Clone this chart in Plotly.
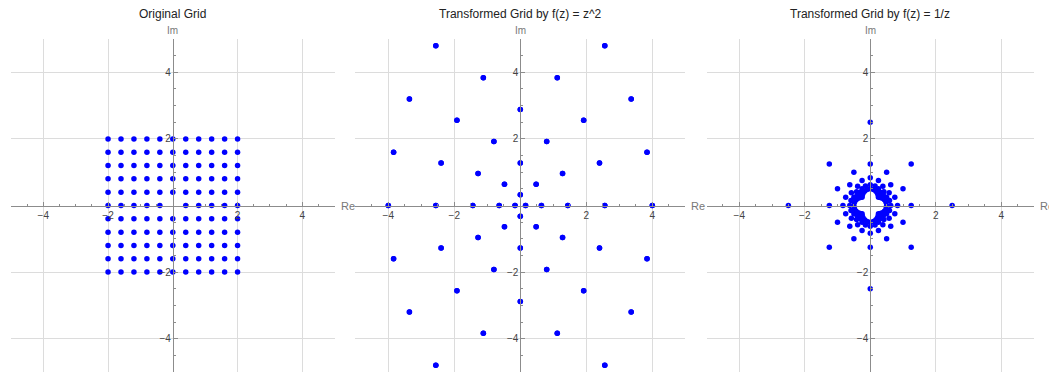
import plotly.graph_objects as go

# Grid values along the real and imaginary axes (origin excluded)
re_values = [-2.0, -1.6, -1.2, -0.8, -0.4, 0.0, 0.4, 0.8, 1.2, 1.6, 2.0]
im_values = [-2.0, -1.6, -1.2, -0.8, -0.4, 0.0, 0.4, 0.8, 1.2, 1.6, 2.0]
titles = ["Original Grid", "Transformed Grid by f(z) = z^2", "Transformed Grid by f(z) = 1/z"]
major_ticks = [-4, -2, 2, 4]
minor_ticks = [-4.5, -3.5, -3, -2.5, -1.5, -1, -0.5, 0.5, 1, 1.5, 2.5, 3, 3.5, 4.5]
tick_text = ["\u22124", "\u22122", "2", "4"]
plot_range = [-5, 5]

grid = [complex(a, b) for b in im_values for a in re_values if not (a == 0 and b == 0)]
transforms = [lambda z: z, lambda z: z ** 2, lambda z: 1 / z]

# page body has an 8px margin, so the figure is drawn 8px smaller
W, H = 1049, 365
x_pix = [(2.9, 326.7), (347.3, 677.3), (698.5, 1026.0)]

fig = go.Figure()
font_family = "Liberation Sans, Arial, sans-serif"

for i, (f, title) in enumerate(zip(transforms, titles)):
    pts = [f(z) for z in grid]
    pts = [p for p in pts if abs(p.real) <= 5 and abs(p.imag) <= 5]
    xs = [p.real for p in pts]
    ys = [p.imag for p in pts]
    sfx = "" if i == 0 else str(i + 1)
    fig.add_trace(go.Scatter(
        x=xs, y=ys, mode="markers",
        marker=dict(color="#0000FF", size=5.5, line=dict(width=0)),
        xaxis="x" + sfx, yaxis="y" + sfx, showlegend=False, hoverinfo="x+y",
    ))
    d0, d1 = x_pix[i][0] / W, x_pix[i][1] / W
    xc = (d0 + d1) / 2
    common = dict(
        range=plot_range, tickmode="array", tickvals=major_ticks,
        ticktext=tick_text, showgrid=True, gridcolor="#dcdcdc", gridwidth=1,
        zeroline=False, showline=True, linecolor="#8c8c8c", linewidth=1,
        ticks="inside", ticklen=4, tickcolor="#8c8c8c", tickwidth=1,
        minor=dict(tickmode="array", tickvals=minor_ticks, ticks="inside", ticklen=2,
                   tickcolor="#8c8c8c", showgrid=False),
        tickfont=dict(size=10, color="#444444", family=font_family),
    )
    fig.layout["xaxis" + sfx] = dict(common, domain=[d0, d1], anchor="free", position=0.5, side="bottom")
    fig.layout["yaxis" + sfx] = dict(common, domain=[0, 1], anchor="free", position=xc, side="left")

    fig.add_annotation(text=title, xref="x" + sfx, yref="paper", x=0, y=1, yanchor="middle",
                       yshift=25, showarrow=False,
                       font=dict(size=12, color="#222222", family=font_family))
    fig.add_annotation(text="Im", xref="x" + sfx, yref="paper", x=0, y=1, yanchor="middle",
                       yshift=9, showarrow=False,
                       font=dict(size=10, color="#777777", family=font_family))
    fig.add_annotation(text="Re", xref="x" + sfx, yref="y" + sfx, x=5, y=0, xanchor="left",
                       xshift=4, showarrow=False,
                       font=dict(size=11, color="#777777", family=font_family))

fig.update_layout(
    width=W, height=H, margin=dict(l=0, r=0, t=31, b=1),
    paper_bgcolor="white", plot_bgcolor="white",
)

fig.write_html("out.html")
